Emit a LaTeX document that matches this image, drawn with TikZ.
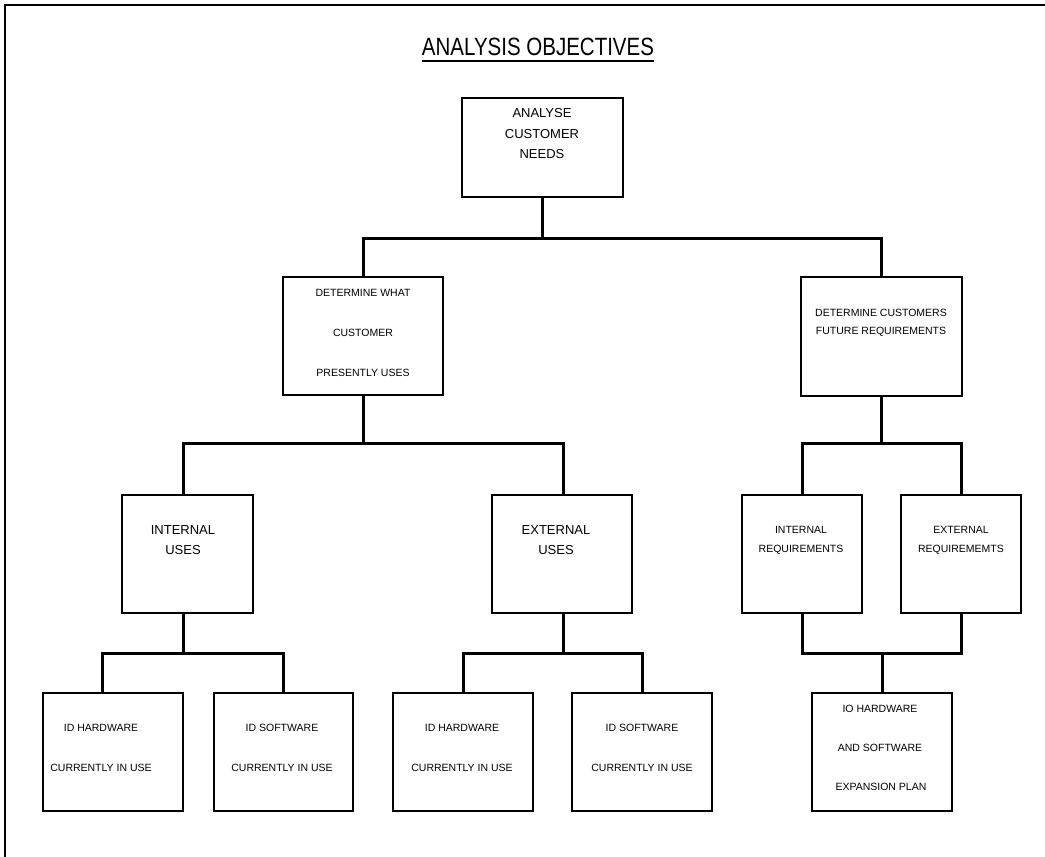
\documentclass[tikz,border=0pt]{standalone}
\usepackage{fontspec}
\setmainfont{Liberation Sans}
\begin{document}
\begin{tikzpicture}[x=1pt,y=-1pt,
  box/.style={draw, line width=1.3pt, inner sep=0pt},
  conn/.style={line width=3pt, line cap=rect},
  lbl/.style={inner sep=0pt, font=\fontsize{10.5}{12}\selectfont},
  big/.style={inner sep=0pt, font=\fontsize{13}{15}\selectfont},
]
\useasboundingbox (0,0) rectangle (1045,857);
% frame (top and left only)
\draw[line width=2.5pt] (5,857) -- (5,5) -- (1045,5);
% title
\node[inner sep=0pt, font=\fontsize{25}{28}\selectfont] (title) at (538,47) {\scalebox{0.82}[1]{ANALYSIS OBJECTIVES}};
\draw[line width=2pt] ([yshift=-5pt]title.south west) -- ([yshift=-5pt]title.south east);

% row 1
\node[box, minimum width=161pt, minimum height=99pt] (A) at (542.5,147.5) {};
\node[big] (A1) at (542,113) {ANALYSE};
\node[big] (A2) at (542,134) {CUSTOMER};
\node[big] (A3) at (542,154) {NEEDS};

% row 2
\node[box, minimum width=160pt, minimum height=118pt] (DW) at (363,336) {};
\node[lbl] (DW1) at (363,293) {DETERMINE WHAT};
\node[lbl] (DW2) at (363,333) {CUSTOMER};
\node[lbl] (DW3) at (363,373) {PRESENTLY USES};
\node[box, minimum width=161pt, minimum height=119pt] (DC) at (881.5,336.5) {};
\node[lbl] (DC1) at (881,313) {DETERMINE CUSTOMERS};
\node[lbl] (DC2) at (881,332) {FUTURE REQUIREMENTS};

% row 3
\node[box, minimum width=131pt, minimum height=118pt] (IU) at (187.5,554) {};
\node[big] (IU1) at (183,530) {INTERNAL};
\node[big] (IU2) at (183,550) {USES};
\node[box, minimum width=140pt, minimum height=118pt] (EU) at (562,554) {};
\node[big] (EU1) at (556,530) {EXTERNAL};
\node[big] (EU2) at (556,550) {USES};
\node[box, minimum width=120pt, minimum height=118pt] (IR) at (802,554) {};
\node[lbl] (IR1) at (801,530) {INTERNAL};
\node[lbl] (IR2) at (801,550) {REQUIREMENTS};
\node[box, minimum width=120pt, minimum height=118pt] (ER) at (961,554) {};
\node[lbl] (ER1) at (961,530) {EXTERNAL};
\node[lbl] (ER2) at (961,550) {REQUIREMEMTS};

% row 4
\node[box, minimum width=140pt, minimum height=118pt] (H1) at (113,752) {};
\node[lbl] (H1a) at (101,728) {ID HARDWARE};
\node[lbl] (H1b) at (101,768) {CURRENTLY IN USE};
\node[box, minimum width=139pt, minimum height=118pt] (S1) at (283.5,752) {};
\node[lbl] (S1a) at (282,728) {ID SOFTWARE};
\node[lbl] (S1b) at (282,768) {CURRENTLY IN USE};
\node[box, minimum width=140pt, minimum height=118pt] (H2) at (463,752) {};
\node[lbl] (H2a) at (462,728) {ID HARDWARE};
\node[lbl] (H2b) at (462,768) {CURRENTLY IN USE};
\node[box, minimum width=140pt, minimum height=118pt] (S2) at (642,752) {};
\node[lbl] (S2a) at (642,728) {ID SOFTWARE};
\node[lbl] (S2b) at (642,768) {CURRENTLY IN USE};
\node[box, minimum width=140pt, minimum height=118pt] (X) at (882,752) {};
\node[lbl] (X1) at (880,709) {IO HARDWARE};
\node[lbl] (X2) at (880,748) {AND SOFTWARE};
\node[lbl] (X3) at (881,787) {EXPANSION PLAN};

% bar levels
\coordinate (b1) at (0,238);
\coordinate (b2) at (0,443);
\coordinate (b3) at (0,653);

% connectors level 1
\draw[conn] (A.south) -- (A.south |- b1);
\draw[conn] (DW.north) -- (DW.north |- b1) -- (DC.north |- b1) -- (DC.north);
% level 2
\coordinate (iu) at ([xshift=-4.5pt]IU.north);
\coordinate (eu) at ([xshift=1pt]EU.north);
\draw[conn] (DW.south) -- (DW.south |- b2);
\draw[conn] (iu) -- (iu |- b2) -- (eu |- b2) -- (eu);
\draw[conn] (DC.south) -- (DC.south |- b2);
\draw[conn] (IR.north) -- (IR.north |- b2) -- (ER.north |- b2) -- (ER.north);
% level 3
\coordinate (iub) at ([xshift=-4.5pt]IU.south);
\coordinate (eub) at ([xshift=1pt]EU.south);
\coordinate (h1) at ([xshift=-11pt]H1.north);
\draw[conn] (iub) -- (iub |- b3);
\draw[conn] (h1) -- (h1 |- b3) -- (S1.north |- b3) -- (S1.north);
\draw[conn] (eub) -- (eub |- b3);
\draw[conn] (H2.north) -- (H2.north |- b3) -- (S2.north |- b3) -- (S2.north);
\draw[conn] (IR.south) -- (IR.south |- b3) -- (ER.south |- b3) -- (ER.south);
\draw[conn] (X.north |- b3) -- (X.north);
\end{tikzpicture}
\end{document}
